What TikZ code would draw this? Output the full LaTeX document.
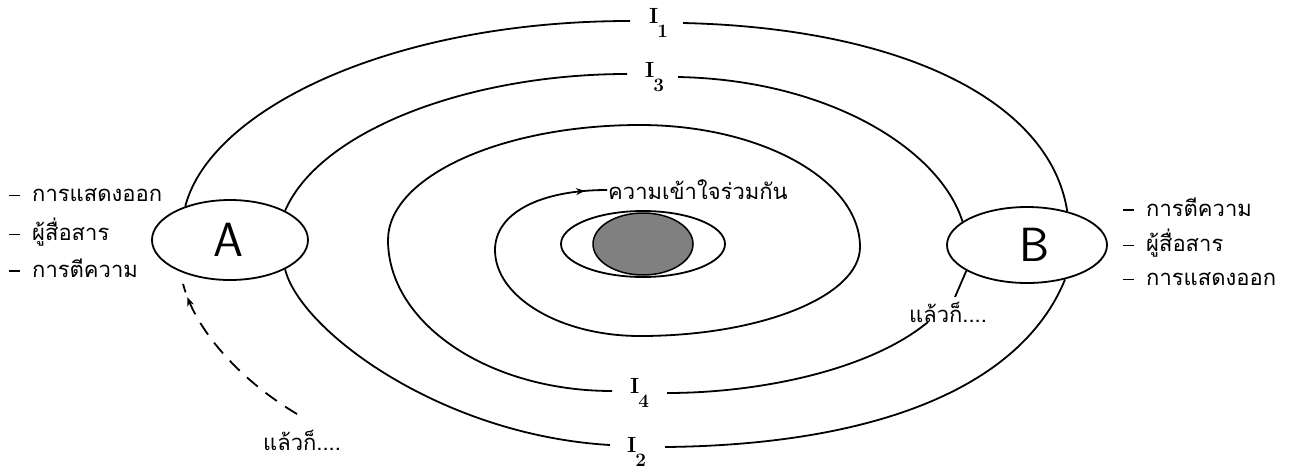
\documentclass[tikz,border=0pt]{standalone}
\usepackage{fontspec}
\newfontfamily\thaifont[Script=Thai]{Loma}
\usetikzlibrary{shapes.geometric,arrows.meta,decorations.markings,calc}
\begin{document}
\begin{tikzpicture}[x=1pt,y=-1pt,
  line/.style={line width=1.8pt},
  ell/.style={ellipse,draw,line width=1.8pt,inner sep=0pt},
  thai/.style={font=\thaifont\fontsize{22}{24}\selectfont, inner sep=1pt},
  ilab/.style={font=\bfseries\fontsize{22}{22}\selectfont, inner sep=0pt, anchor=base west},
  letter/.style={font=\sffamily\fontsize{48}{48}\selectfont},
  midarrow/.style={postaction={decorate},decoration={markings,mark=at position #1 with {\arrow{Stealth[length=9pt,width=7pt]}}}},
]
\useasboundingbox (0,0) rectangle (1293,469);
\fill[white] (0,0) rectangle (1293,469);

% ellipses of the two parties
\node[ell,letter,minimum width=156pt,minimum height=80pt] (A) at (230,240) {\kern-4pt A};
\node[ell,letter,minimum width=160pt,minimum height=76pt] (B) at (1027,245) {\kern16pt B};

% centre
\node[ellipse,draw,line width=1.5pt,fill=black!50,minimum width=100pt,minimum height=62pt] (core) at (643,244) {};
\node[ell,minimum width=164pt,minimum height=66pt] (inner) at (643,244) {};

% labels I
\newcommand{\Ilab}[1]{I\kern-1pt\raisebox{-14pt}{\fontsize{19}{19}\selectfont #1}}
\node[ilab] (I1) at (649,23) {\Ilab{1}};
\node[ilab] (I3) at (645,77) {\Ilab{3}};
\node[ilab] (I4) at (630,393) {\Ilab{4}};
\node[ilab] (I2) at (627,452) {\Ilab{2}};

\coordinate (i1l) at (630,21);  \coordinate (i1r) at (683,23);
\coordinate (i3l) at (627,74);  \coordinate (i3r) at (678,77);
\coordinate (i4l) at (612,391); \coordinate (i4r) at (667,393);
\coordinate (i2l) at (610,445); \coordinate (i2r) at (665,447);
\coordinate (t2a) at (955,297); \coordinate (t2b) at (928,322);
\coordinate (d0) at (297,414);

% texts
\node[thai] (lk) at (302,440) {แล้วก็....};
\node[thai] (rk) at (948,312) {แล้วก็....};
\node[thai,anchor=west] (cu) at (607,190) {ความเข้าใจร่วมกัน};

\newcommand{\dsh}{\rule[5pt]{11pt}{1.8pt}\hspace{12pt}}
\node[thai,anchor=west] (la1) at (8,195) {\dsh การแสดงออก};
\node[thai,anchor=west] (la2) at (8,232) {\dsh ผู้สื่อสาร};
\node[thai,anchor=west] (la3) at (8,268) {\dsh การตีความ};
\node[thai,anchor=west] (rb1) at (1122,207) {\dsh การตีความ};
\node[thai,anchor=west] (rb2) at (1122,243) {\dsh ผู้สื่อสาร};
\node[thai,anchor=west] (rb3) at (1122,279) {\dsh การแสดงออก};

% outer ring I1
\draw[line] (A.143) .. controls (210,110) and (390,21) .. (i1l);
\draw[line] (i1r) .. controls (900,28) and (1050,100) .. (B.40);
% ring I3
\draw[line] (A.28) .. controls (320,130) and (470,74) .. (i3l);
\draw[line] (i3r) .. controls (830,80) and (940,150) .. (B.160);
% ring I2
\draw[line] (A.-28) .. controls (300,330) and (440,435) .. (i2l);
\draw[line] (i2r) .. controls (870,445) and (1020,390) .. (B.-42);
% ring I4 from B
\draw[line] (B.203) -- (t2a);
\draw[line] (t2b) .. controls (870,370) and (760,393) .. (i4r);
% inner spiral to mutual understanding
\draw[line,midarrow=-22pt] (i4l) .. controls (488,391) and (388,323) .. (388,240)
  .. controls (388,177) and (501,125) .. (640,125)
  .. controls (761,125) and (860,180) .. (860,247)
  .. controls (860,296) and (761,336) .. (640,336)
  .. controls (560,336) and (495,297) .. (495,250)
  .. controls (495,213) and (540,190) .. (cu.west);
% dashed return
\draw[line,dash pattern=on 14pt off 10pt,midarrow=-14pt] (d0) .. controls (240,380) and (195,330) .. ($(A.215)+(0,11)$);
\end{tikzpicture}
\end{document}
